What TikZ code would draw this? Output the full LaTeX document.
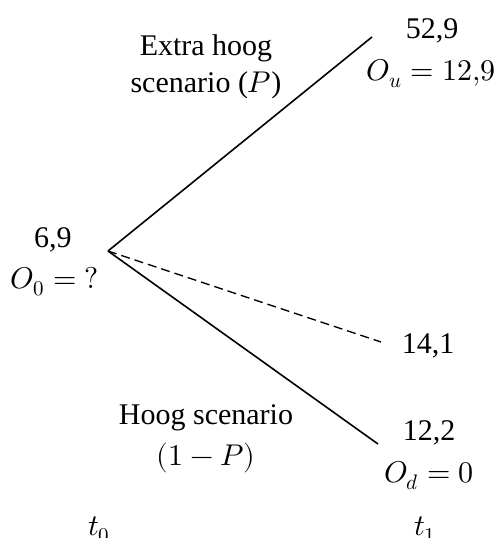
\documentclass[tikz,border=0pt]{standalone}
\usepackage{fontspec}
\usepackage{unicode-math}
\setmainfont{Liberation Serif}
\setmathfont{Latin Modern Math}
\begin{document}
\begin{tikzpicture}[x=1pt,y=-1pt,
  lbl/.style={anchor=base,inner sep=0pt,font=\fontsize{30}{36}\selectfont},
  branch/.style={line width=1.6pt},
  dbranch/.style={line width=1.3pt,dash pattern=on 9pt off 5pt}]
\useasboundingbox (0,0) rectangle (497,538);
\coordinate (v) at (108,251);
\coordinate (up) at (372,37);
\coordinate (mid) at (381,342);
\coordinate (dn) at (378,444);
\draw[branch] (v) -- (up);
\draw[branch] (v) -- (dn);
\draw[dbranch] (v) -- (mid);
\node[lbl] (s0) at (53,247) {6,9};
\node[lbl] (o0) at (55,288) {$O_0=?$};
\node[lbl] (su) at (432,38) {52,9};
\node[lbl] (ou) at (431,80) {$O_u=12{,}9$};
\node[lbl] (sm) at (428,353) {14,1};
\node[lbl] (sd) at (429,440) {12,2};
\node[lbl] (od) at (429,482) {$O_d=0$};
\node[lbl] (eh1) at (206,55) {Extra hoog};
\node[lbl] (eh2) at (206,92) {scenario ($P$)};
\node[lbl] (h1) at (206,424) {Hoog scenario};
\node[lbl] (h2) at (206,465) {$(1-P)$};
\node[lbl] (t0) at (99,535) {$t_0$};
\node[lbl] (t1) at (425,535) {$t_1$};
\end{tikzpicture}
\end{document}
